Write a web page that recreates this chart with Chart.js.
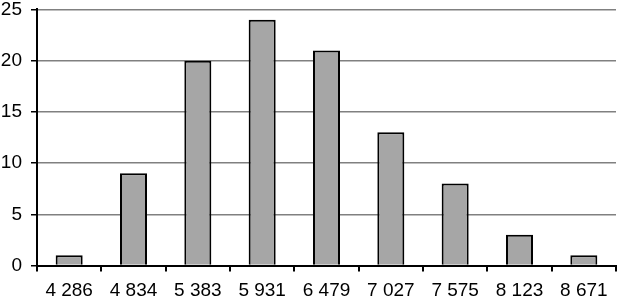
<!DOCTYPE html>
<html>
<head>
<meta charset="utf-8">
<script src="https://cdn.jsdelivr.net/npm/chart.js@4"></script>
<style>
  html, body { margin: 0; padding: 0; background: #fff; }
  #wrap { width: 617px; height: 297px; position: relative; }
</style>
</head>
<body>
<div id="wrap"><canvas id="myBarChart"></canvas></div>
<script>
var categories = ['4 286', '4 834', '5 383', '5 931', '6 479', '7 027', '7 575', '8 123', '8 671'];
var counts = [1, 9, 20, 24, 21, 13, 8, 3, 1];
var yTicks = [0, 5, 10, 15, 20, 25];

Chart.defaults.font.family = '"Liberation Sans", Arial, sans-serif';
Chart.defaults.color = '#000';

var ctx = document.getElementById('myBarChart');
var myChart = new Chart(ctx, {
    type: 'bar',
    data: {
        labels: categories,
        datasets: [{
            label: 'Count',
            data: counts,
            backgroundColor: '#a6a6a6',
            borderColor: '#000',
            borderWidth: 2,
            categoryPercentage: 1,
            barPercentage: 0.42
        }]
    },
    options: {
        responsive: true,
        maintainAspectRatio: false,
        animation: false,
        layout: { padding: { top: 0, right: 1, left: 0, bottom: 0 } },
        plugins: { legend: { display: false }, tooltip: { enabled: false } },
        scales: {
            x: {
                grid: { offset: true, drawOnChartArea: false, tickColor: '#000', tickLength: 6, lineWidth: 2 },
                border: { color: '#000', width: 2 },
                ticks: { font: { size: 19 }, padding: 8, maxRotation: 0 },
                afterFit: function (scale) { scale.height = 31.5; }
            },
            y: {
                min: yTicks[0],
                max: yTicks[yTicks.length - 1],
                afterBuildTicks: function (scale) {
                    scale.ticks = yTicks.map(function (v) { return { value: v }; });
                },
                grid: { color: '#808080', tickColor: '#000', tickLength: 6, lineWidth: 1.5 },
                border: { color: '#000', width: 2 },
                // tiny lineHeight so the top padding is mostly the tick padding
                ticks: { font: { size: 19, lineHeight: 0.05 }, padding: 9 },
                afterFit: function (scale) { scale.width = 37; }
            }
        }
    }
});
</script>
</body>
</html>
